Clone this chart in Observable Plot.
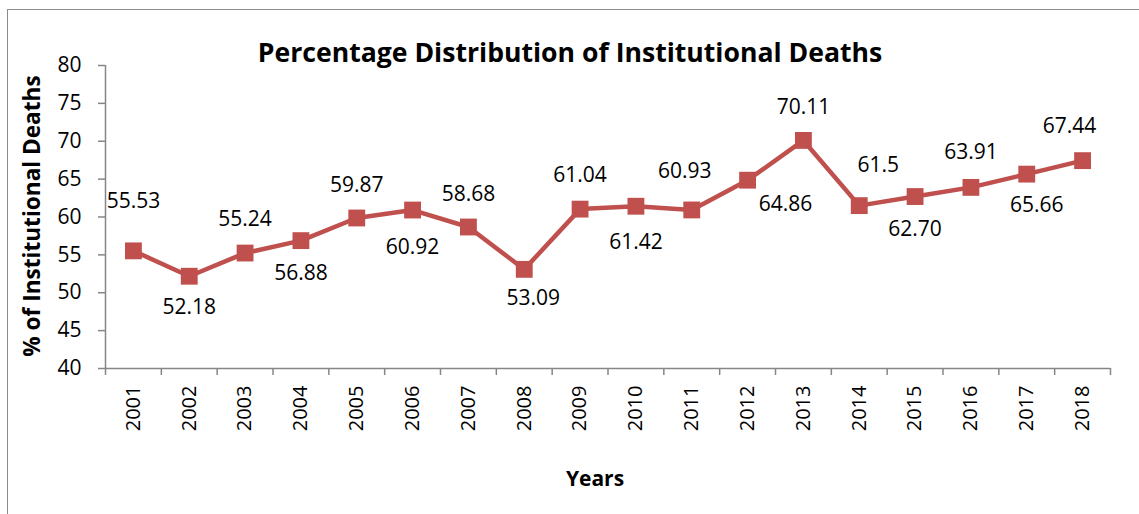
<!DOCTYPE html>
<html>
<head>
<meta charset="utf-8">
<script src="https://cdn.jsdelivr.net/npm/d3@7"></script>
<script src="https://cdn.jsdelivr.net/npm/@observablehq/plot@0.6"></script>
<style>
  html, body { margin: 0; padding: 0; background: #fff; }
  #wrap { position: relative; width: 1139px; height: 514px; overflow: hidden; font-family: "Open Sans", Lato, sans-serif; }
  #frame { position: absolute; left: 7px; top: 9px; width: 1140px; height: 520px; border-top: 1px solid #8c8c8c; border-left: 1px solid #8c8c8c; }
  #chart { position: absolute; left: 0; top: 0; }
  .lbl { position: absolute; font-weight: bold; color: #000; white-space: nowrap; }
  #title { left: 570px; top: 52px; transform: translate(-50%, -50%); font-size: 26.6px; }
  #xlab { left: 595px; top: 478px; transform: translate(-50%, -50%); font-size: 21px; }
  #ylab { left: 31px; top: 216px; transform: translate(-50%, -50%) rotate(-90deg); font-size: 22.6px; }
</style>
</head>
<body>
<div id="wrap">
  <div id="frame"></div>
  <div id="chart"></div>
  <div class="lbl" id="title">Percentage Distribution of Institutional Deaths</div>
  <div class="lbl" id="ylab">% of Institutional Deaths</div>
  <div class="lbl" id="xlab">Years</div>
</div>
<script>
const years = [2001, 2002, 2003, 2004, 2005, 2006, 2007, 2008, 2009, 2010, 2011, 2012, 2013, 2014, 2015, 2016, 2017, 2018];
const values = [55.53, 52.18, 55.24, 56.88, 59.87, 60.92, 58.68, 53.09, 61.04, 61.42, 60.93, 64.86, 70.11, 61.5, 62.70, 63.91, 65.66, 67.44];
const valueLabels = ["55.53", "52.18", "55.24", "56.88", "59.87", "60.92", "58.68", "53.09", "61.04", "61.42", "60.93", "64.86", "70.11", "61.5", "62.70", "63.91", "65.66", "67.44"];
const labelSide = ["above", "below", "above", "below", "above", "below", "above", "below", "above", "below", "above", "below", "above", "above", "below", "above", "below", "above"];
const yTicks = [40, 45, 50, 55, 60, 65, 70, 75, 80];

// ---- styling / layout (not data) ----
const RED = "#C0504D";
const AXIS = "#868686";
const FONT = "'Open Sans', Lato, sans-serif";
const nudge = {
  2001: [0, -50], 2002: [0, 31], 2003: [0, -34], 2004: [0, 33], 2005: [0, -33], 2006: [0, 37],
  2007: [0, -33], 2008: [9, 29], 2009: [0, -34], 2010: [0, 36], 2011: [-7, -39], 2012: [38, 24],
  2013: [0, -33], 2014: [19, -40], 2015: [0, 33], 2016: [0, -35], 2017: [10, 31], 2018: [-13, -34]
};

const rows = years.map((yr, i) => ({year: yr, value: values[i], label: valueLabels[i], side: labelSide[i]}));
const boundaries = [years[0] - 0.5, ...years.map(y => y + 0.5)];

const labelMarks = rows.map(r => {
  const [dx, dy] = nudge[r.year] || [0, r.side === "above" ? -34 : 33];
  return Plot.text([r], {x: "year", y: "value", text: "label", dx, dy, fontSize: 21, fill: "#000"});
});

const chart = Plot.plot({
  width: 1139,
  height: 514,
  marginLeft: 105,
  marginRight: 29,
  marginTop: 65,
  marginBottom: 146,
  x: {type: "linear", domain: [years[0] - 0.5, years[years.length - 1] + 0.5]},
  y: {domain: [40, 80]},
  style: {fontFamily: FONT, fontSize: "20px", color: "#000", background: "transparent"},
  marks: [
    Plot.axisY({ticks: yTicks, tickSize: 7, tickPadding: 17, stroke: AXIS, strokeWidth: 1.5, strokeOpacity: 1, label: null, fontSize: 21, tickFormat: d => String(d)}),
    Plot.axisX({ticks: boundaries, tickSize: 7, stroke: AXIS, strokeWidth: 1.5, strokeOpacity: 1, tickFormat: () => "", label: null}),
    Plot.axisX({ticks: years, tickSize: 0, tickPadding: 17, tickRotate: -90, tickFormat: d => String(d), label: null, fontSize: 20}),
    Plot.ruleY([40], {stroke: AXIS, strokeWidth: 1.5}),
    Plot.ruleX([years[0] - 0.5], {stroke: AXIS, strokeWidth: 1.5}),
    Plot.line(rows, {x: "year", y: "value", stroke: RED, strokeWidth: 4.5}),
    Plot.dot(rows, {x: "year", y: "value", symbol: "square", r: 9.5, fill: RED, stroke: "none"}),
    ...labelMarks
  ]
});
document.getElementById("chart").appendChild(chart);
</script>
</body>
</html>
